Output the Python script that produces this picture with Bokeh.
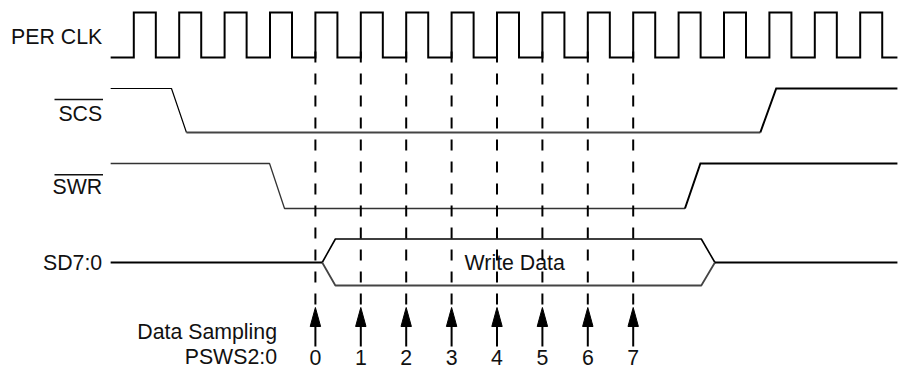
from bokeh.plotting import figure
from bokeh.models import Range1d
from bokeh.core.properties import value
from bokeh.embed import file_html
from bokeh.resources import INLINE

# ---------------- data (time in PER CLK cycles, edge 0 = first rising edge) ----
signal_names = ["PER CLK", "SCS", "SWR", "SD7:0"]
clk_rise = [0, 1, 2, 3, 4, 5, 6, 7, 8, 9, 10, 11, 12, 13, 14, 15, 16]
clk_high_time = 0.485
t_start, t_end = -0.51, 16.82

scs_t = [-0.51, 0.83, 1.16, 13.80, 14.15, 16.82]
scs_lvl = [1, 1, 0, 0, 1, 1]
swr_t = [-0.51, 2.99, 3.32, 12.14, 12.48, 16.82]
swr_lvl = [1, 1, 0, 0, 1, 1]
bus_valid = [4.15, 4.44, 12.50, 12.80]   # start-point, start-flat, end-flat, end-point
bus_label = "Write Data"

sample_t = [4, 5, 6, 7, 8, 9, 10, 11]
sample_labels = ["0", "1", "2", "3", "4", "5", "6", "7"]
sampling_title = ["Data Sampling", "PSWS2:0"]

# ---------------- layout (pixels) ----------------
X0, PER = 133.3, 45.4
def tx(px):
    return (px - X0) / PER

W, H = 906, 371
CLK_HI, CLK_LO = 12, 57
SCS_HI, SCS_LO = 88, 132
SWR_HI, SWR_LO = 163, 208
SD_MID, SD_TOP, SD_BOT = 262, 238.5, 285
DASH_TOP, DASH_BOT = 51, 305
ARR_TIP, ARR_BASE, ARR_END = 307, 326, 346
DIGIT_Y = 357
LABEL_RIGHT = 101.7
FONT = value("Liberation Sans")
FS = "21.3px"

p = figure(width=W, height=H, x_range=Range1d(tx(0), tx(W)),
           y_range=Range1d(H, 0), output_backend="svg", toolbar_location=None,
           x_axis_type=None, y_axis_type=None, min_border=0,
           outline_line_color=None)
p.grid.visible = False

# clock
cx, cy = [t_start], [CLK_LO]
for r in clk_rise:
    cx += [r, r, r + clk_high_time, r + clk_high_time]
    cy += [CLK_LO, CLK_HI, CLK_HI, CLK_LO]
cx.append(t_end); cy.append(CLK_LO)
p.line(cx, cy, line_color="black", line_width=2, line_join="miter")

def wave(ts, lv, hi, lo):
    return ts, [hi if l else lo for l in lv]

# SCS: thin left part, thicker low / right part
sx, sy = wave(scs_t, scs_lvl, SCS_HI, SCS_LO)
p.line(sx[:3], sy[:3], line_color="black", line_width=1.2)
p.line(sx[2:4], sy[2:4], line_color="#444444", line_width=1.8)
p.line(sx[3:], sy[3:], line_color="black", line_width=2, line_join="miter")

wx, wy = wave(swr_t, swr_lvl, SWR_HI, SWR_LO)
p.line(wx[:4], wy[:4], line_color="#333333", line_width=1.3)
p.line(wx[3:], wy[3:], line_color="black", line_width=2, line_join="miter")

# bus
b0, b1, b2, b3 = bus_valid
p.line([t_start, b0], [SD_MID, SD_MID], line_color="black", line_width=2)
p.line([b0, b1, b2, b3], [SD_MID, SD_TOP, SD_TOP, SD_MID], line_color="black", line_width=1.6)
p.line([b0, b1, b2, b3], [SD_MID, SD_BOT, SD_BOT, SD_MID], line_color="#444444", line_width=1.8)
p.line([b3, t_end], [SD_MID, SD_MID], line_color="black", line_width=2)
p.text(x=[(b1 + b2) / 2 - 0.08], y=[SD_MID], text=[bus_label], text_align="center",
       text_baseline="middle", text_font=FONT, text_font_size=FS, text_color="#111111")

# sampling dashed lines and arrows
p.segment(x0=sample_t, y0=[DASH_TOP] * len(sample_t), x1=sample_t, y1=[DASH_BOT] * len(sample_t),
          line_color="black", line_width=2, line_dash="11 11")
hw = 5.2 / PER
p.patches(xs=[[t, t - hw, t + hw] for t in sample_t],
          ys=[[ARR_TIP, ARR_BASE, ARR_BASE] for _ in sample_t],
          fill_color="black", line_color="black", line_width=1)
p.segment(x0=sample_t, y0=[ARR_BASE] * len(sample_t), x1=sample_t, y1=[ARR_END] * len(sample_t),
          line_color="black", line_width=2)
p.text(x=sample_t, y=[DIGIT_Y] * len(sample_t), text=sample_labels, text_align="center",
       text_baseline="middle", text_font=FONT, text_font_size=FS, text_color="#111111")

# signal labels
label_y = [36.5, 113, 186, 262.5]
p.text(x=[tx(LABEL_RIGHT)] * 4, y=label_y, text=signal_names, text_align="right",
       text_baseline="middle", text_font=FONT, text_font_size=FS, text_color="#111111")
# overlines for active-low signals
p.segment(x0=[tx(54), tx(54)], y0=[99, 174.3], x1=[tx(102.5), tx(102.5)], y1=[99, 174.3],
          line_color="#111111", line_width=1.5)

p.text(x=[tx(276.5)] * 2, y=[331.5, 356.5], text=sampling_title, text_align="right",
       text_baseline="middle", text_font=FONT, text_font_size=FS, text_color="#111111")

open("out.html", "w").write(file_html(p, INLINE))
